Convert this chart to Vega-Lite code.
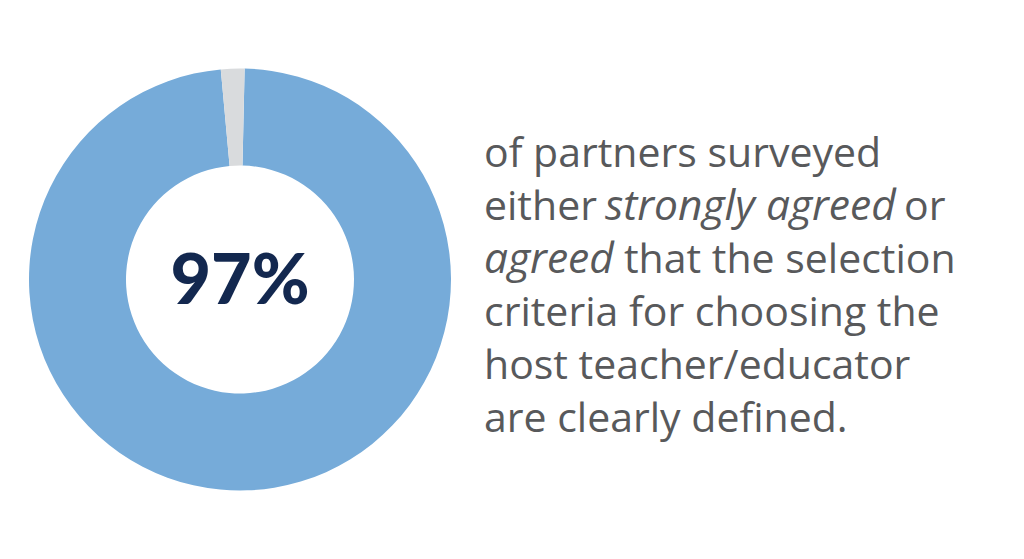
{
  "$schema": "https://vega.github.io/schema/vega-lite/v6.json",
  "padding": 0,
  "background": "white",
  "spacing": 4,
  "config": {"view": {"stroke": null}},
  "hconcat": [
    {
      "width": 480,
      "height": 559,
      "layer": [
        {
          "data": {"values": [
            {"category": "Agreed", "value": 98.2, "order": 1},
            {"category": "Other", "value": 1.8, "order": 2}
          ]},
          "mark": {"type": "arc", "outerRadius": 211, "innerRadius": 114},
          "encoding": {
            "theta": {"field": "value", "type": "quantitative", "stack": true, "scale": {"range": [0.022, 6.305]}},
            "order": {"field": "order", "type": "quantitative"},
            "color": {"field": "category", "type": "nominal", "scale": {"domain": ["Agreed", "Other"], "range": ["#76abd9", "#d9dbdd"]}, "legend": null}
          }
        },
        {
          "data": {"values": [{"label": "97%"}]},
          "mark": {"type": "text", "font": "Lato", "fontWeight": 900, "fontSize": 70, "color": "#13284f", "align": "center", "baseline": "middle", "dy": 3},
          "encoding": {"text": {"field": "label", "type": "nominal"}}
        }
      ]
    },
    {
      "width": 540,
      "height": 559,
      "data": {"values": [
        {"line": 1, "seg": 1, "text": "of partners surveyed", "style": "normal"},
        {"line": 2, "seg": 1, "text": "either", "style": "normal"},
        {"line": 2, "seg": 2, "text": "strongly agreed", "style": "italic"},
        {"line": 2, "seg": 3, "text": "or", "style": "normal"},
        {"line": 3, "seg": 1, "text": "agreed", "style": "italic"},
        {"line": 3, "seg": 2, "text": "that the selection", "style": "normal"},
        {"line": 4, "seg": 1, "text": "criteria for choosing the", "style": "normal"},
        {"line": 5, "seg": 1, "text": "host teacher/educator", "style": "normal"},
        {"line": 6, "seg": 1, "text": "are clearly defined.", "style": "normal"}
      ]},
      "encoding": {
        "x": {"datum": 0, "type": "quantitative", "scale": {"domain": [0, 1]}, "axis": null},
        "y": {"field": "line", "type": "quantitative", "scale": {"domain": [-2.15, 8.397], "reverse": true}, "axis": null},
        "text": {"field": "text", "type": "nominal"}
      },
      "layer": [
        {
          "transform": [{"filter": "datum.seg == 1 && datum.style == 'normal'"}],
          "mark": {"type": "text", "font": "Open Sans", "fontSize": 41, "color": "#58595b", "align": "left", "baseline": "alphabetic"}
        },
        {
          "transform": [{"filter": "datum.line == 3 && datum.seg == 1"}],
          "mark": {"type": "text", "font": "Open Sans", "fontSize": 42.5, "fontStyle": "italic", "color": "#58595b", "align": "left", "baseline": "alphabetic"}
        },
        {
          "transform": [{"filter": "datum.line == 2 && datum.seg == 2"}],
          "mark": {"type": "text", "font": "Open Sans", "fontSize": 42.5, "fontStyle": "italic", "color": "#58595b", "align": "left", "baseline": "alphabetic", "dx": 121}
        },
        {
          "transform": [{"filter": "datum.line == 2 && datum.seg == 3"}],
          "mark": {"type": "text", "font": "Open Sans", "fontSize": 41, "color": "#58595b", "align": "left", "baseline": "alphabetic", "dx": 420}
        },
        {
          "transform": [{"filter": "datum.line == 3 && datum.seg == 2"}],
          "mark": {"type": "text", "font": "Open Sans", "fontSize": 41, "color": "#58595b", "align": "left", "baseline": "alphabetic", "dx": 140}
        }
      ]
    }
  ]
}
